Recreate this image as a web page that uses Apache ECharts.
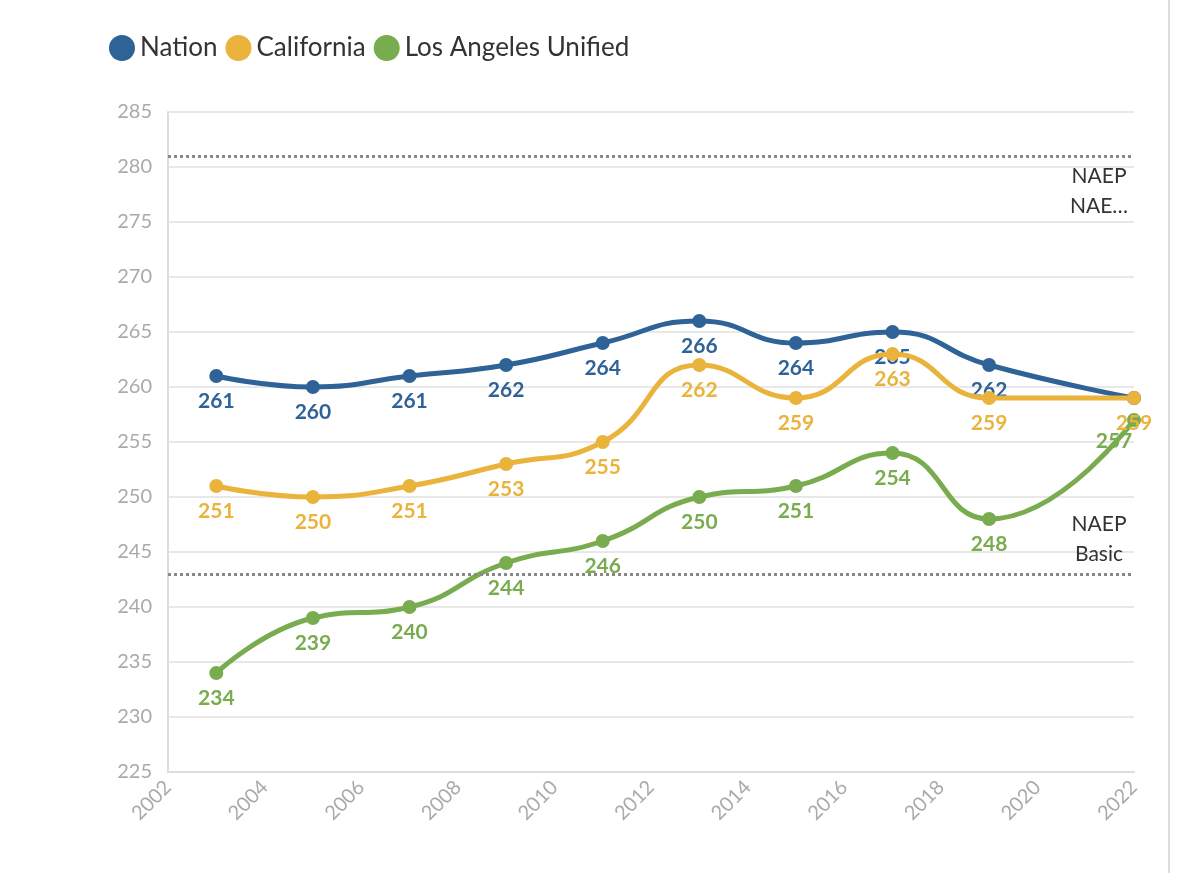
<!DOCTYPE html>
<html>
<head>
<meta charset="utf-8">
<script src="https://cdn.jsdelivr.net/npm/echarts@6/dist/echarts.min.js"></script>
<style>
  html, body { margin: 0; padding: 0; background: #fff; }
  #chart { width: 1200px; height: 873px; }
  #edge { position: absolute; left: 1168px; top: 0; width: 2px; height: 873px; background: #ddd; }
</style>
</head>
<body>
<div id="chart"></div>
<div id="edge"></div>
<script>
const years = [2003, 2005, 2007, 2009, 2011, 2013, 2015, 2017, 2019, 2022];
const nation = [261, 260, 261, 262, 264, 266, 264, 265, 262, 259];
const california = [251, 250, 251, 253, 255, 262, 259, 263, 259, 259];
const losAngeles = [234, 239, 240, 244, 246, 250, 251, 254, 248, 257];
const proficientLevel = 281;
const basicLevel = 243;

const font = 'Lato, "Open Sans", sans-serif';

function makeSeries(name, values, color, extra, lastLabel) {
  return Object.assign({
    name,
    type: 'line',
    smooth: true,
    data: years.map((y, i) => {
      const d = { value: [y, values[i]] };
      if (i === years.length - 1 && lastLabel) d.label = lastLabel;
      return d;
    }),
    symbol: 'circle',
    symbolSize: 14,
    lineStyle: { width: 5, color },
    itemStyle: { color },
    label: {
      show: true, position: 'bottom', distance: 8,
      color, fontFamily: font, fontWeight: 'bold', fontSize: 21
    }
  }, extra || {});
}

const chart = echarts.init(document.getElementById('chart'));
chart.setOption({
  animation: false,
  textStyle: { fontFamily: font },
  legend: {
    left: 104, top: 30,
    icon: 'circle', itemWidth: 26, itemHeight: 26, itemGap: 8,
    textStyle: { fontSize: 26, color: '#333', fontFamily: font }
  },
  grid: { left: 168, right: 66, top: 112, bottom: 101 },
  xAxis: {
    type: 'value', min: 2002, max: 2022, interval: 2,
    axisLine: { show: true, lineStyle: { color: '#ddd', width: 2 } },
    axisTick: { show: false },
    splitLine: { show: false },
    axisLabel: { rotate: 45, color: '#aaa', fontSize: 20, margin: 12, formatter: v => String(v) }
  },
  yAxis: {
    type: 'value', min: 225, max: 285, interval: 5,
    axisLine: { show: true, lineStyle: { color: '#ddd', width: 2 } },
    axisTick: { show: false },
    splitLine: { lineStyle: { color: '#e8e8e8', width: 2 } },
    axisLabel: { color: '#aaa', fontSize: 20, margin: 16 }
  },
  series: [
    makeSeries('Nation', nation, '#2f6397', {
      z: 3,
      markLine: {
        silent: true, symbol: 'none',
        lineStyle: { color: '#888', type: 'dotted', width: 3 },
        label: {
          color: '#333', fontSize: 21, fontFamily: font, lineHeight: 30, align: 'center'
        },
        data: [
          { yAxis: proficientLevel, label: { formatter: 'NAEP\nNAE…', position: 'insideEndBottom', offset: [-30, 0] } },
          { yAxis: basicLevel, label: { formatter: 'NAEP\nBasic', position: 'insideEndTop', offset: [-30, 0] } }
        ]
      }
    }, { show: false }),
    makeSeries('California', california, '#e9b33c', { z: 4 }),
    makeSeries('Los Angeles Unified', losAngeles, '#79ab4f', { z: 2 },
      { show: true, position: 'bottom', offset: [-20, -4] })
  ]
});
</script>
</body>
</html>
